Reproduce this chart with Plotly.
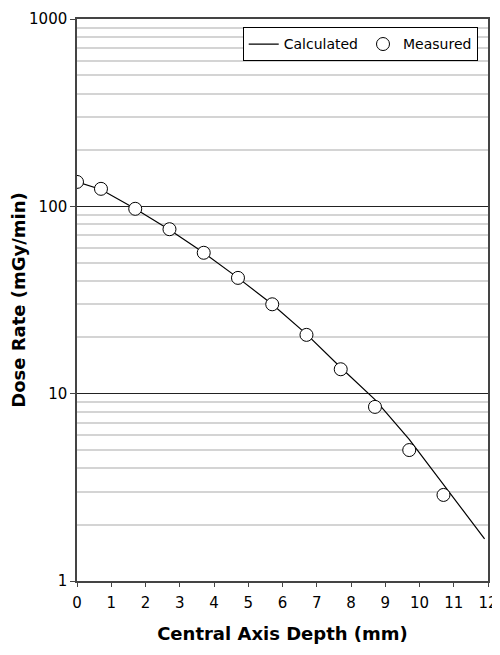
import plotly.graph_objects as go

# Measured data
meas_depth = [0, 0.7, 1.7, 2.7, 3.7, 4.7, 5.7, 6.7, 7.7, 8.7, 9.7, 10.7]
meas_rate = [135, 124, 97, 75.5, 56.5, 41.5, 30, 20.6, 13.5, 8.5, 5.0, 2.88]

# Calculated curve
calc_depth = [0, 0.7, 1.7, 2.7, 3.7, 4.7, 5.7, 6.7, 7.7, 8.7, 9.7, 10.7, 11.9]
calc_rate = [135, 123, 97, 75, 56.5, 41.5, 30, 20.8, 13.8, 9.3, 5.7, 3.25, 1.68]

x_ticks = list(range(0, 13))
y_ticks = [1, 10, 100, 1000]
y_minor = [m * d for d in (1, 10, 100) for m in range(2, 10)]

font_family = "DejaVu Sans, Verdana, sans-serif"

fig = go.Figure()
fig.add_trace(go.Scatter(
    x=calc_depth, y=calc_rate, mode="lines", name="Calculated",
    line=dict(color="black", width=1.2),
))
fig.add_trace(go.Scatter(
    x=meas_depth, y=meas_rate, mode="markers", name="Measured",
    marker=dict(symbol="circle", size=13, color="white",
                line=dict(color="black", width=1)),
))

# page body has an 8px margin, so the figure is sized to fill the 500x655 window
fig.update_layout(
    width=492, height=647,
    margin=dict(l=69, r=12, t=11, b=74),
    paper_bgcolor="white", plot_bgcolor="white",
    font=dict(family=font_family, size=14, color="black"),
    showlegend=True,
    legend=dict(
        orientation="h", x=0.975, y=0.985, xanchor="right", yanchor="top",
        bordercolor="black", borderwidth=1, bgcolor="white",
        font=dict(size=14), itemwidth=30,
    ),
    xaxis=dict(
        range=[0, 12], tickvals=x_ticks, ticktext=[str(v) for v in x_ticks],
        showgrid=False, zeroline=False, automargin=False,
        showline=True, linecolor="#444", linewidth=1.5, mirror=True,
        ticks="outside", ticklen=4, tickcolor="#444",
        tickfont=dict(size=15), ticklabelstandoff=3,
        title=dict(text="<b>Central Axis Depth (mm)</b>", font=dict(size=18), standoff=17),
    ),
    yaxis=dict(
        type="log", range=[0, 3], tickvals=y_ticks,
        ticktext=[str(v) for v in y_ticks],
        showgrid=True, gridcolor="#222", gridwidth=1, zeroline=False,
        automargin=False,
        showline=True, linecolor="#444", linewidth=1.5, mirror=True,
        ticks="outside", ticklen=5, tickcolor="#444",
        tickfont=dict(size=15),
        minor=dict(tickvals=y_minor, showgrid=True, gridcolor="#d4d4d4", gridwidth=1.5, ticks=""),
        title=dict(text="<b>Dose Rate (mGy/min)</b>", font=dict(size=18), standoff=6),
    ),
)

fig.write_html("out.html")
